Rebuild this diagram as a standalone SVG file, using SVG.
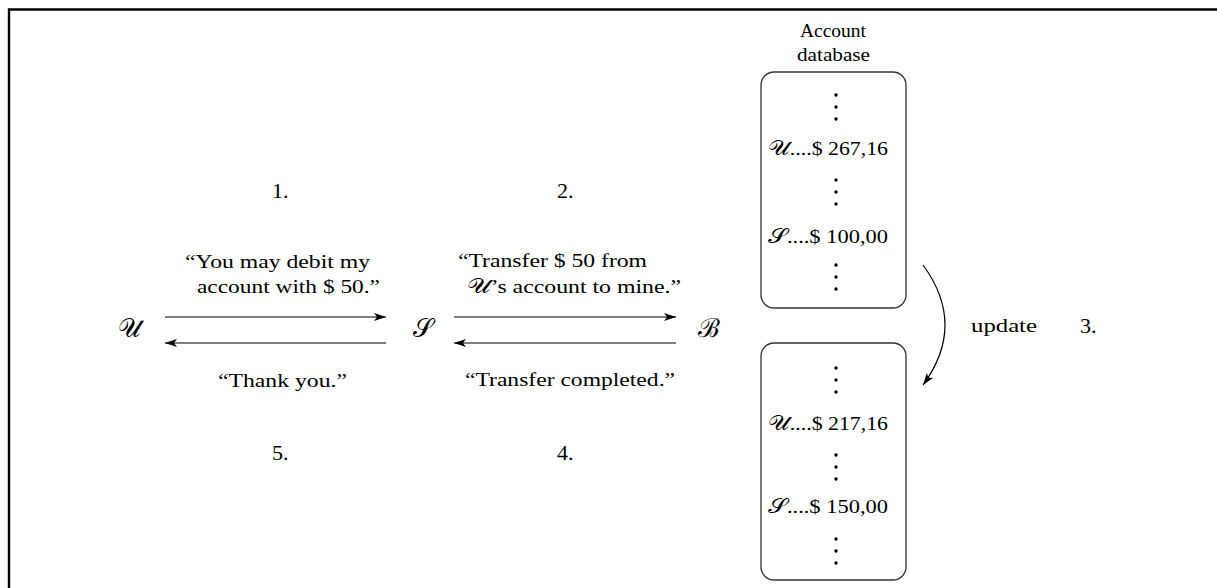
<svg xmlns="http://www.w3.org/2000/svg" width="1217" height="588" viewBox="0 0 1217 588">
<defs>
<marker id="ah" viewBox="0 0 12 8" refX="12" refY="4" markerWidth="12" markerHeight="8" markerUnits="userSpaceOnUse" orient="auto">
<path d="M0,0 L12,4 L0,8 L3,4 Z" fill="#000"/>
</marker>
<g id="vd"><circle cx="0" cy="0" r="1.7"/><circle cx="0" cy="12" r="1.7"/><circle cx="0" cy="24" r="1.7"/></g>
</defs>
<style>
text{font-family:"Liberation Serif","DejaVu Serif",serif;fill:#000}
.t{font-size:19px}
.n{font-size:22px}
.m{font-size:26px}
.c{text-anchor:middle}
.ln{stroke:#000;stroke-width:1.2;fill:none}
.box{fill:#fff;stroke:#333;stroke-width:1.3}
</style>
<rect width="1217" height="588" fill="#fff"/>
<path d="M9,588 V9.5 H1217" fill="none" stroke="#000" stroke-width="2.4"/>
<g id="nodeU"><text class="m c" x="129" y="337">𝒰</text></g>
<g id="nodeS"><text class="m c" x="423" y="337">𝒮</text></g>
<g id="nodeB"><text class="m c" x="709" y="337">ℬ</text></g>
<g id="connectors">
<line class="ln" x1="165" y1="317" x2="386" y2="317" marker-end="url(#ah)"/>
<line class="ln" x1="386" y1="343" x2="165" y2="343" marker-end="url(#ah)"/>
<line class="ln" x1="454" y1="317" x2="676" y2="317" marker-end="url(#ah)"/>
<line class="ln" x1="676" y1="343" x2="454" y2="343" marker-end="url(#ah)"/>
<path class="ln" d="M923,265 Q967,325 923,385" marker-end="url(#ah)"/>
</g>
<g id="labels">
<text class="t" x="185" y="268" textLength="185" lengthAdjust="spacingAndGlyphs">“You may debit my</text>
<text class="t" x="197" y="293" textLength="183" lengthAdjust="spacingAndGlyphs">account with $ 50.”</text>
<text class="t" x="218" y="387" textLength="129" lengthAdjust="spacingAndGlyphs">“Thank you.”</text>
<text class="t" x="458" y="267" textLength="189" lengthAdjust="spacingAndGlyphs">“Transfer $ 50 from</text>
<text class="t" x="467" y="293" textLength="214" lengthAdjust="spacingAndGlyphs"><tspan font-size="21px">𝒰</tspan>’s account to mine.”</text>
<text class="t" x="465" y="386" textLength="210" lengthAdjust="spacingAndGlyphs">“Transfer completed.”</text>
<text class="n" x="272" y="198">1.</text>
<text class="n" x="557" y="198">2.</text>
<text class="n" x="272" y="460">5.</text>
<text class="n" x="557" y="460">4.</text>
<text class="t" x="971" y="332" textLength="66" lengthAdjust="spacingAndGlyphs">update</text>
<text class="n" x="1080" y="333">3.</text>
</g>
<g id="db1">
<text class="t" x="800" y="37" textLength="66" lengthAdjust="spacingAndGlyphs">Account</text>
<text class="t" x="797" y="61" textLength="73" lengthAdjust="spacingAndGlyphs">database</text>
<rect class="box" x="761" y="72" width="145" height="236" rx="13"/>
<use href="#vd" x="836" y="95"/>
<text class="t" x="768" y="155" textLength="120" lengthAdjust="spacingAndGlyphs"><tspan font-size="21px">𝒰</tspan>....$ 267,16</text>
<use href="#vd" x="836" y="180"/>
<text class="t" x="768" y="243" textLength="120" lengthAdjust="spacingAndGlyphs"><tspan font-size="21px">𝒮</tspan>....$ 100,00</text>
<use href="#vd" x="836" y="265"/>
</g>
<g id="db2">
<rect class="box" x="761" y="343" width="145" height="237" rx="13"/>
<use href="#vd" x="836" y="368"/>
<text class="t" x="768" y="430" textLength="120" lengthAdjust="spacingAndGlyphs"><tspan font-size="21px">𝒰</tspan>....$ 217,16</text>
<use href="#vd" x="836" y="455"/>
<text class="t" x="768" y="513" textLength="120" lengthAdjust="spacingAndGlyphs"><tspan font-size="21px">𝒮</tspan>....$ 150,00</text>
<use href="#vd" x="836" y="539"/>
</g>
</svg>
